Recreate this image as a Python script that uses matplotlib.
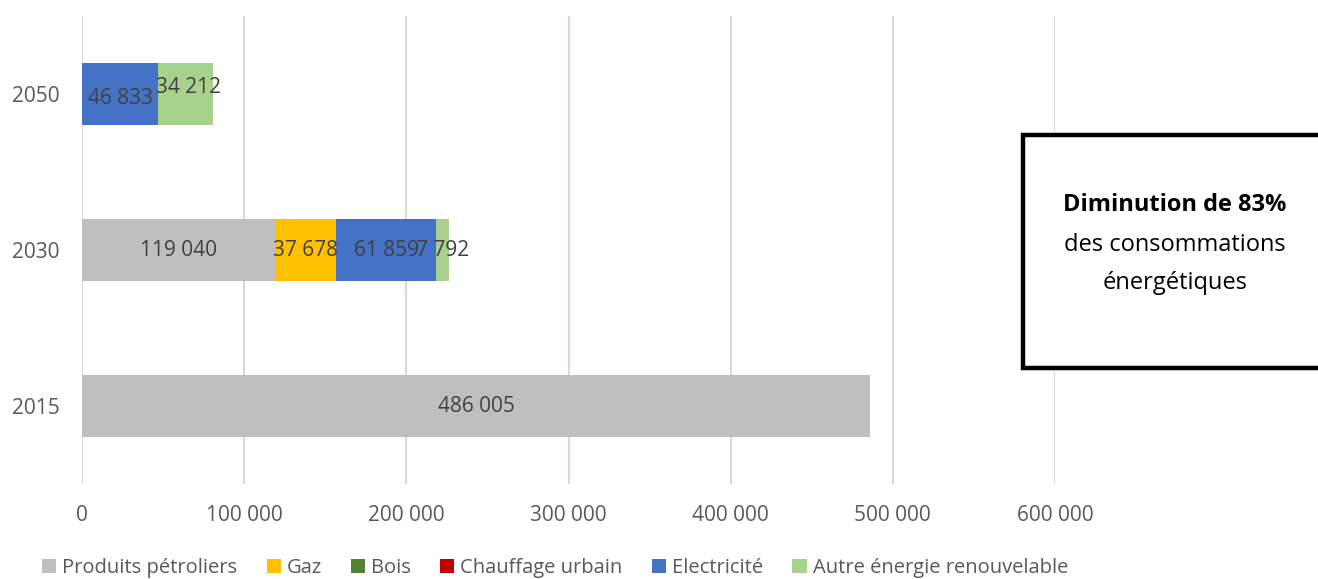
import matplotlib
matplotlib.use("Agg")
import matplotlib.pyplot as plt
from matplotlib.patches import Rectangle, Patch
from matplotlib.ticker import FuncFormatter

years = ["2015", "2030", "2050"]
series_names = ["Produits pétroliers", "Gaz", "Bois", "Chauffage urbain",
                "Electricité", "Autre énergie renouvelable"]
produits_petroliers = [486005, 119040, 0]
gaz = [0, 37678, 0]
bois = [0, 0, 0]
chauffage_urbain = [0, 0, 0]
electricite = [0, 61859, 46833]
autre_renouvelable = [0, 7792, 34212]
colors = ["#BFBFBF", "#FFC000", "#548235", "#C00000", "#4472C4", "#A9D18E"]
xticks = [0, 100000, 200000, 300000, 400000, 500000, 600000]

# label nudges (points) mimicking the original label placement
label_nudge = {("Electricité", "2050"): (0, -3), ("Autre énergie renouvelable", "2050"): (2, 5)}

plt.rcParams['font.family'] = ['Open Sans', 'DejaVu Sans']

fig = plt.figure(figsize=(13.18, 5.79), dpi=100)
W, H = 1318, 579
ax = fig.add_axes([82 / W, 1 - 484 / H, (1055 - 82) / W, (484 - 16) / H])

all_series = [produits_petroliers, gaz, bois, chauffage_urbain, electricite, autre_renouvelable]
ypos = list(range(len(years)))
left = [0] * len(years)
for name, vals, col in zip(series_names, all_series, colors):
    bars = ax.barh(ypos, vals, left=left, height=0.4, color=col, label=name, zorder=2)
    for b, v, l, yr in zip(bars, vals, left, years):
        if v > 0:
            ax.annotate(f"{v:,}".replace(",", " "),
                        (l + v / 2, b.get_y() + b.get_height() / 2),
                        xytext=label_nudge.get((name, yr), (0, 0)), textcoords="offset points",
                        ha="center", va="center", fontsize=15, color="#404040", zorder=3)
    left = [a + b for a, b in zip(left, vals)]

ax.set_xlim(0, 600000)
ax.set_ylim(-0.5, 2.5)
ax.set_xticks(xticks)
ax.xaxis.set_major_formatter(FuncFormatter(lambda v, p: f"{int(v):,}".replace(",", " ")))
ax.set_yticks(ypos)
ax.set_yticklabels(years)
ax.tick_params(axis="both", length=0, labelsize=15, labelcolor="#595959")
ax.tick_params(axis="x", pad=15)
ax.tick_params(axis="y", pad=16)
ax.grid(axis="x", color="#D9D9D9", linewidth=1.5, zorder=0)
for s in ax.spines.values():
    s.set_visible(False)

handles = [Patch(facecolor=c, edgecolor="none") for c in colors]
fig.legend(handles, series_names, loc="center", bbox_to_anchor=(555 / W, 1 - 568 / H),
           ncol=6, frameon=False, fontsize=14.5, labelcolor="#595959",
           handlelength=0.7, handleheight=0.7, handletextpad=0.3, columnspacing=1.45,
           borderpad=0.0)

# annotation box
rect = Rectangle((1023 / W, 1 - 368 / H), 300 / W, (368 - 135) / H, transform=fig.transFigure,
                 facecolor="white", edgecolor="black", linewidth=3.2, zorder=5, clip_on=False)
fig.add_artist(rect)
fig.text(1175 / W, 1 - 205 / H, "Diminution de 83%", ha="center", va="center",
         fontsize=17, fontweight="bold", color="black", zorder=6)
fig.text(1175 / W, 1 - 245 / H, "des consommations", ha="center", va="center",
         fontsize=17, color="black", zorder=6)
fig.text(1175 / W, 1 - 283 / H, "énergétiques", ha="center", va="center",
         fontsize=17, color="black", zorder=6)

fig.savefig("out.png", dpi=100)
